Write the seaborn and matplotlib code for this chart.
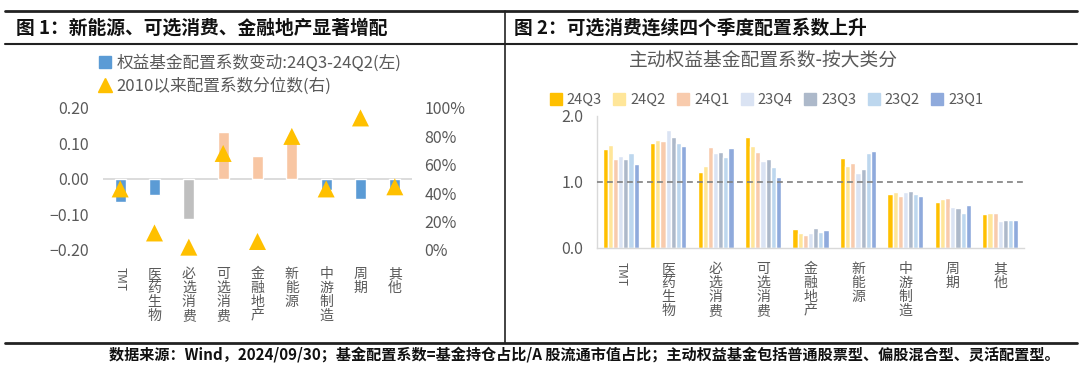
import numpy as np
import pandas as pd
import matplotlib
matplotlib.use("Agg")
import matplotlib.pyplot as plt
from matplotlib.lines import Line2D
import seaborn as sns

# ---------------- data ----------------
categories = ["TMT", "医药生物", "必选消费", "可选消费", "金融地产", "新能源", "中游制造", "周期", "其他"]

# left chart
alloc_change = [-0.065, -0.044, -0.113, 0.131, 0.066, 0.110, -0.030, -0.056, -0.030]
alloc_pct = [0.43, 0.12, 0.02, 0.68, 0.06, 0.80, 0.43, 0.93, 0.445]
left_bar_colors = ["#5B9BD5", "#5B9BD5", "#BFBFBF", "#F8C6A3", "#F8C6A3", "#F8C6A3",
                   "#5B9BD5", "#5B9BD5", "#5B9BD5"]
left_legend = ["权益基金配置系数变动:24Q3-24Q2(左)", "2010以来配置系数分位数(右)"]
left_yticks = [-0.20, -0.10, 0.00, 0.10, 0.20]
right_yticks_pct = [0.0, 0.2, 0.4, 0.6, 0.8, 1.0]

# right chart
quarters = ["24Q3", "24Q2", "24Q1", "23Q4", "23Q3", "23Q2", "23Q1"]
q24Q3 = [1.49, 1.58, 1.14, 1.68, 0.28, 1.36, 0.81, 0.69, 0.51]
q24Q2 = [1.56, 1.63, 1.24, 1.54, 0.22, 1.24, 0.84, 0.74, 0.52]
q24Q1 = [1.34, 1.62, 1.52, 1.45, 0.20, 1.28, 0.78, 0.75, 0.53]
q23Q4 = [1.39, 1.79, 1.44, 1.31, 0.23, 1.13, 0.85, 0.62, 0.40]
q23Q3 = [1.35, 1.68, 1.45, 1.34, 0.30, 1.19, 0.86, 0.60, 0.42]
q23Q2 = [1.44, 1.59, 1.37, 1.22, 0.24, 1.44, 0.81, 0.53, 0.42]
q23Q1 = [1.27, 1.54, 1.51, 1.07, 0.27, 1.46, 0.79, 0.64, 0.42]
quarter_colors = ["#FFC000", "#FFE699", "#F8CBAD", "#DAE3F3", "#ADB9CA", "#BDD7EE", "#8FAADC"]
right_yticks = [0.0, 1.0, 2.0]
ref_level = 1.0

title_left = "图 1：新能源、可选消费、金融地产显著增配"
title_right = "图 2：可选消费连续四个季度配置系数上升"
chart_title_right = "主动权益基金配置系数-按大类分"
footnote = "数据来源：Wind，2024/09/30；基金配置系数=基金持仓占比/A 股流通市值占比；主动权益基金包括普通股票型、偏股混合型、灵活配置型。"

# ---------------- style ----------------
sns.set_theme(style="white")
plt.rcParams["font.family"] = ["Noto Sans CJK SC", "DejaVu Sans"]
plt.rcParams["axes.unicode_minus"] = False
GRAY = "#595959"

W, H = 1080, 370
fig = plt.figure(figsize=(W / 100, H / 100), dpi=100)


def fx(px):
    return px / W


def fy(py):
    return 1 - py / H


# frame lines
fig.add_artist(Line2D([fx(5), fx(1077)], [fy(10.5), fy(10.5)], color="#222222", lw=2.0))
fig.add_artist(Line2D([fx(5), fx(1077)], [fy(44), fy(44)], color="#222222", lw=1.5))
fig.add_artist(Line2D([fx(505), fx(505)], [fy(10.5), fy(343)], color="#222222", lw=1.2))
fig.add_artist(Line2D([fx(5), fx(1077)], [fy(343), fy(343)], color="#222222", lw=2.0))

fig.text(fx(16), fy(28), title_left, fontsize=13.5, fontweight="bold", color="#111111", va="center", ha="left")
fig.text(fx(514), fy(28), title_right, fontsize=13.5, fontweight="bold", color="#111111", va="center", ha="left")
fig.text(fx(1060), fy(354), footnote, fontsize=10.9, color="#111111", va="center", ha="right",
         fontweight="bold")

# ---------------- left chart ----------------
ax1 = fig.add_axes([fx(103), fy(250), fx(309), (250 - 108) / H])
sns.barplot(x=categories, y=alloc_change, hue=categories, palette=left_bar_colors,
            width=0.32, saturation=1, legend=False, ax=ax1, zorder=2)
ax1.axhline(0, color="#D9D9D9", lw=1.3, zorder=1)
ax1.set_ylim(-0.20, 0.20)
ax1.set_xlim(-0.5, len(categories) - 0.5)
ax1.set_yticks(left_yticks)
ax1.set_yticklabels([f"{v:.2f}".replace("-", "−") if v < 0 else f"{v:.2f}" for v in left_yticks],
                    fontsize=11.5, color=GRAY)
for s in ax1.spines.values():
    s.set_visible(False)
ax1.tick_params(axis="y", length=0, pad=10)
ax1.tick_params(axis="x", length=0, pad=12)

ax1r = ax1.twinx()
sns.scatterplot(x=categories, y=alloc_pct, marker="^", s=150, color="#FFC000",
                edgecolor="none", ax=ax1r, zorder=3, legend=False, clip_on=False)
ax1r.set_ylim(0, 1.0)
ax1r.set_yticks(right_yticks_pct)
ax1r.set_yticklabels([f"{int(round(v * 100))}%" for v in right_yticks_pct], fontsize=11.5, color=GRAY)
for s in ax1r.spines.values():
    s.set_visible(False)
ax1r.tick_params(axis="y", length=0, pad=9)
ax1r.set_ylabel("")
ax1.set_ylabel("")

ax1.set_xticks(range(len(categories)))
ax1.set_xticklabels(["TMT" if c == "TMT" else "\n".join(c) for c in categories],
                    fontsize=10, color=GRAY, va="top", linespacing=1.0)
for lab in ax1.get_xticklabels():
    if lab.get_text() == "TMT":
        lab.set_rotation(-90)
        lab.set_fontsize(8.5)

h_left = [Line2D([], [], marker="s", ls="none", color="#5B9BD5", markersize=8),
          Line2D([], [], marker="^", ls="none", color="#FFC000", markersize=10)]
fig.legend(h_left, left_legend, loc="upper left", bbox_to_anchor=(fx(99), fy(54)),
           frameon=False, fontsize=12, labelcolor=GRAY, handlelength=0.7,
           handletextpad=0.35, labelspacing=0.35, borderpad=0, borderaxespad=0)

# ---------------- right chart ----------------
series = [q24Q3, q24Q2, q24Q1, q23Q4, q23Q3, q23Q2, q23Q1]
df = pd.DataFrame({
    "cat": np.repeat([categories], len(quarters), axis=0).ravel(),
    "q": np.repeat(quarters, len(categories)),
    "val": np.concatenate(series),
})
ax2 = fig.add_axes([fx(597), fy(247.7), fx(427), (247.7 - 115.7) / H])
sns.barplot(data=df, x="cat", y="val", hue="q", hue_order=quarters, palette=quarter_colors,
            width=0.76, saturation=1, gap=0, ax=ax2, legend=False, zorder=2)
ax2.axhline(ref_level, color="#7F7F7F", lw=1.2, ls=(0, (3.5, 2.5)), zorder=3)
ax2.set_ylim(0, 2.0)
ax2.set_xlim(-0.5, len(categories) - 0.5)
ax2.set_yticks(right_yticks)
ax2.set_yticklabels([f"{v:.1f}" for v in right_yticks], fontsize=11.5, color=GRAY)
ax2.set_xlabel("")
ax2.set_ylabel("")
for k in ["top", "right"]:
    ax2.spines[k].set_visible(False)
for k in ["left", "bottom"]:
    ax2.spines[k].set_color("#D9D9D9")
    ax2.spines[k].set_linewidth(1.0)
ax2.tick_params(axis="y", length=0, pad=10)
ax2.tick_params(axis="x", length=0, pad=10)
ax2.set_xticks(range(len(categories)))
ax2.set_xticklabels(["TMT" if c == "TMT" else "\n".join(c) for c in categories],
                    fontsize=10, color=GRAY, va="top", linespacing=1.0)
for lab in ax2.get_xticklabels():
    if lab.get_text() == "TMT":
        lab.set_rotation(-90)
        lab.set_fontsize(8.5)

fig.text(fx(763), fy(60), chart_title_right, fontsize=13.5, color=GRAY, ha="center", va="center")
h_right = [Line2D([], [], marker="s", ls="none", color=c, markersize=8) for c in quarter_colors]
fig.legend(h_right, quarters, loc="center", bbox_to_anchor=(fx(767), fy(100)), ncol=7,
           frameon=False, fontsize=10.5, labelcolor=GRAY, handlelength=0.7,
           handletextpad=0.4, columnspacing=0.85, borderpad=0, borderaxespad=0)

ax1.set_xlabel("")
fig.savefig("out.png", dpi=100)
